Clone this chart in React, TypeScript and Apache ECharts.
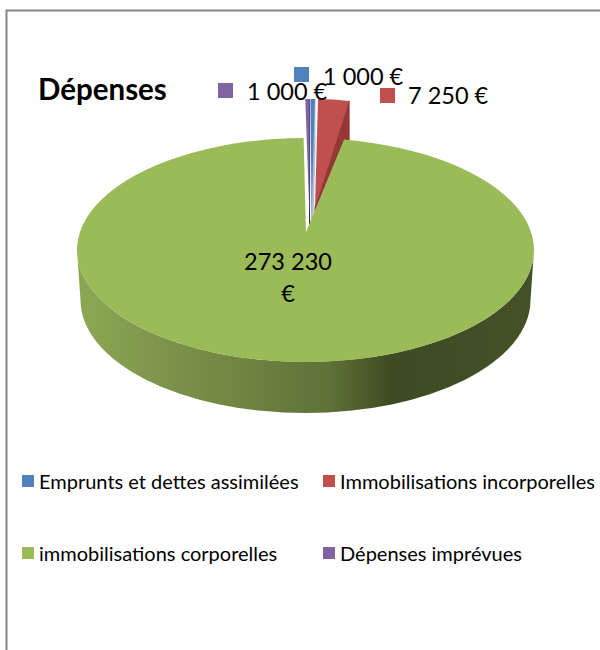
import React, { useEffect, useRef } from "react";
import * as echarts from "echarts";

const categories = [
  "Emprunts et dettes assimilées",
  "Immobilisations incorporelles",
  "immobilisations corporelles",
  "Dépenses imprévues",
];
const values = [1000, 7250, 273230, 1000];
const titleText = "Dépenses";

const colors = ["#4f81bd", "#c0504d", "#9bbb59", "#8064a2"];
const wallColors = ["#a9bcd6", "#953735", "#4a5a2a", "#2f2547"];
const FONT = "Lato, Carlito, 'Open Sans', sans-serif";

// projection of each slice: apex of the wedge + ellipse of its rim, drawn with perspective
const sliceLayouts = [
  { ax: 311.5, ay: 215, cx: 310.6, cy: 212, rx: 194, ry: 113, pad: 0 },
  { ax: 315, ay: 207, cx: 313.7, cy: 212, rx: 194, ry: 113, pad: 0 },
  { ax: 306, ay: 232, cx: 305.5, cy: 250, rx: 228.5, ry: 112, pad: 0.8 },
  { ax: 309.5, ay: 217, cx: 309.6, cy: 212, rx: 194, ry: 113, pad: 0 },
];
// data label: swatch position and text position
const labelLayouts = [
  { sx: 294, sy: 67, tx: 323, ty: 76 },
  { sx: 380, sy: 88, tx: 408, ty: 95 },
  { sx: 217, sy: 252, tx: 288, ty: 277 },
  { sx: 218, sy: 83, tx: 247, ty: 91 },
];
const legendLayouts = [
  { left: 22, top: 471 },
  { left: 323, top: 471 },
  { left: 22, top: 543 },
  { left: 323, top: 543 },
];
const DEPTH_BOTTOM = { cx: 305.5, cy: 300, rx: 225, ry: 113 };

const total = values.reduce((a, b) => a + b, 0);
const fmtNumber = (v: number) => String(v).replace(/\B(?=(\d{3})+$)/g, " ");

// clockwise angle (degrees, from 12 o'clock) where slice i starts and ends
function sliceAngles(i: number) {
  let start = 0;
  for (let k = 0; k < i; k++) start += (values[k] / total) * 360;
  return [start, start + (values[i] / total) * 360];
}

function rimPoint(l: any, deg: number) {
  const r = (deg * Math.PI) / 180;
  return [l.cx + l.rx * Math.sin(r), l.cy - l.ry * Math.cos(r)];
}

function makeRenderItem(i: number) {
  return (_params: any, api: any) => {
    const value = api.value(0);
    const [a0, a1] = sliceAngles(i);
    const l = sliceLayouts[i];
    const lab = labelLayouts[i];
    const p0 = rimPoint(l, a0 - l.pad);
    const p1 = rimPoint(l, a1 + l.pad);
    const large = a1 - a0 > 180 ? 1 : 0;
    const top = `M${l.ax} ${l.ay}L${p0[0]} ${p0[1]}A${l.rx} ${l.ry} 0 ${large} 1 ${p1[0]} ${p1[1]}Z`;
    const children: any[] = [];

    if (large) {
      // outer wall of the big slice
      const b = DEPTH_BOTTOM;
      const wall =
        `M${l.cx - l.rx} ${l.cy}A${l.rx} ${l.ry} 0 0 0 ${l.cx + l.rx} ${l.cy}` +
        `L${b.cx + b.rx} ${b.cy}A${b.rx} ${b.ry} 0 0 1 ${b.cx - b.rx} ${b.cy}Z`;
      children.push({
        type: "path",
        z2: 1,
        shape: { pathData: wall },
        style: {
          fill: {
            type: "linear",
            global: true,
            x: 77,
            y: 0,
            x2: 534,
            y2: 0,
            colorStops: [
              { offset: 0, color: "#8ca754" },
              { offset: 0.55, color: "#5f7238" },
              { offset: 0.69, color: "#3d4a22" },
              { offset: 1, color: "#455228" },
            ],
          },
        },
      });
    } else {
      // cut wall seen behind the small slices
      const d = 51;
      const wall = `M${l.ax} ${l.ay}L${p1[0]} ${p1[1]}L${p1[0]} ${p1[1] + d}L${l.ax} ${l.ay + d}Z`;
      children.push({
        type: "path",
        z2: 1,
        shape: { pathData: wall },
        style: { fill: wallColors[i], stroke: wallColors[i], lineWidth: 1 },
      });
    }
    children.push({
      type: "path",
      z2: 2,
      shape: { pathData: top },
      style: { fill: colors[i] },
    });
    children.push({
      type: "rect",
      z2: 50,
      shape: { x: lab.sx, y: lab.sy, width: 15, height: 15 },
      style: { fill: colors[i] },
    });
    const num = fmtNumber(value);
    children.push({
      type: "text",
      z2: 60,
      x: lab.tx,
      y: lab.ty,
      style: {
        text: large ? `${num}\n€` : `${num} €`,
        font: `23.5px ${FONT}`,
        fill: "#000",
        align: large ? "center" : "left",
        verticalAlign: "middle",
        lineHeight: 32,
      },
    });
    return { type: "group", children };
  };
}

export default function App() {
  const ref = useRef<HTMLDivElement>(null);
  useEffect(() => {
    const chart = echarts.init(ref.current!, undefined, { renderer: "svg" });
    chart.setOption({
      animation: false,
      backgroundColor: "#fff",
      title: {
        text: titleText,
        left: 38,
        top: 73,
        padding: 0,
        textStyle: { fontFamily: FONT, fontSize: 29.5, fontWeight: "bold", color: "#000" },
      },
      legend: categories.map((name, i) => ({
        data: [name],
        left: legendLayouts[i].left,
        top: legendLayouts[i].top,
        padding: 0,
        icon: "rect",
        itemWidth: 12,
        itemHeight: 12,
        selectedMode: false,
        textStyle: { fontFamily: FONT, fontSize: 20, color: "#000" },
      })),
      graphic: [
        {
          type: "polyline",
          shape: { points: [[6.5, 650], [6.5, 10.5], [600, 10.5]] },
          style: { stroke: "#868686", lineWidth: 2, fill: "none" },
        },
      ],
      series: categories.map((name, i) => ({
        type: "custom",
        name,
        coordinateSystem: "none",
        z: i === 2 ? 3 : 2,
        itemStyle: { color: colors[i] },
        data: [[values[i]]],
        renderItem: makeRenderItem(i),
        silent: true,
      })),
    });
    return () => chart.dispose();
  }, []);
  return (
    <div
      ref={ref}
      style={{ position: "absolute", left: 0, top: 0, width: 600, height: 650 }}
    />
  );
}
